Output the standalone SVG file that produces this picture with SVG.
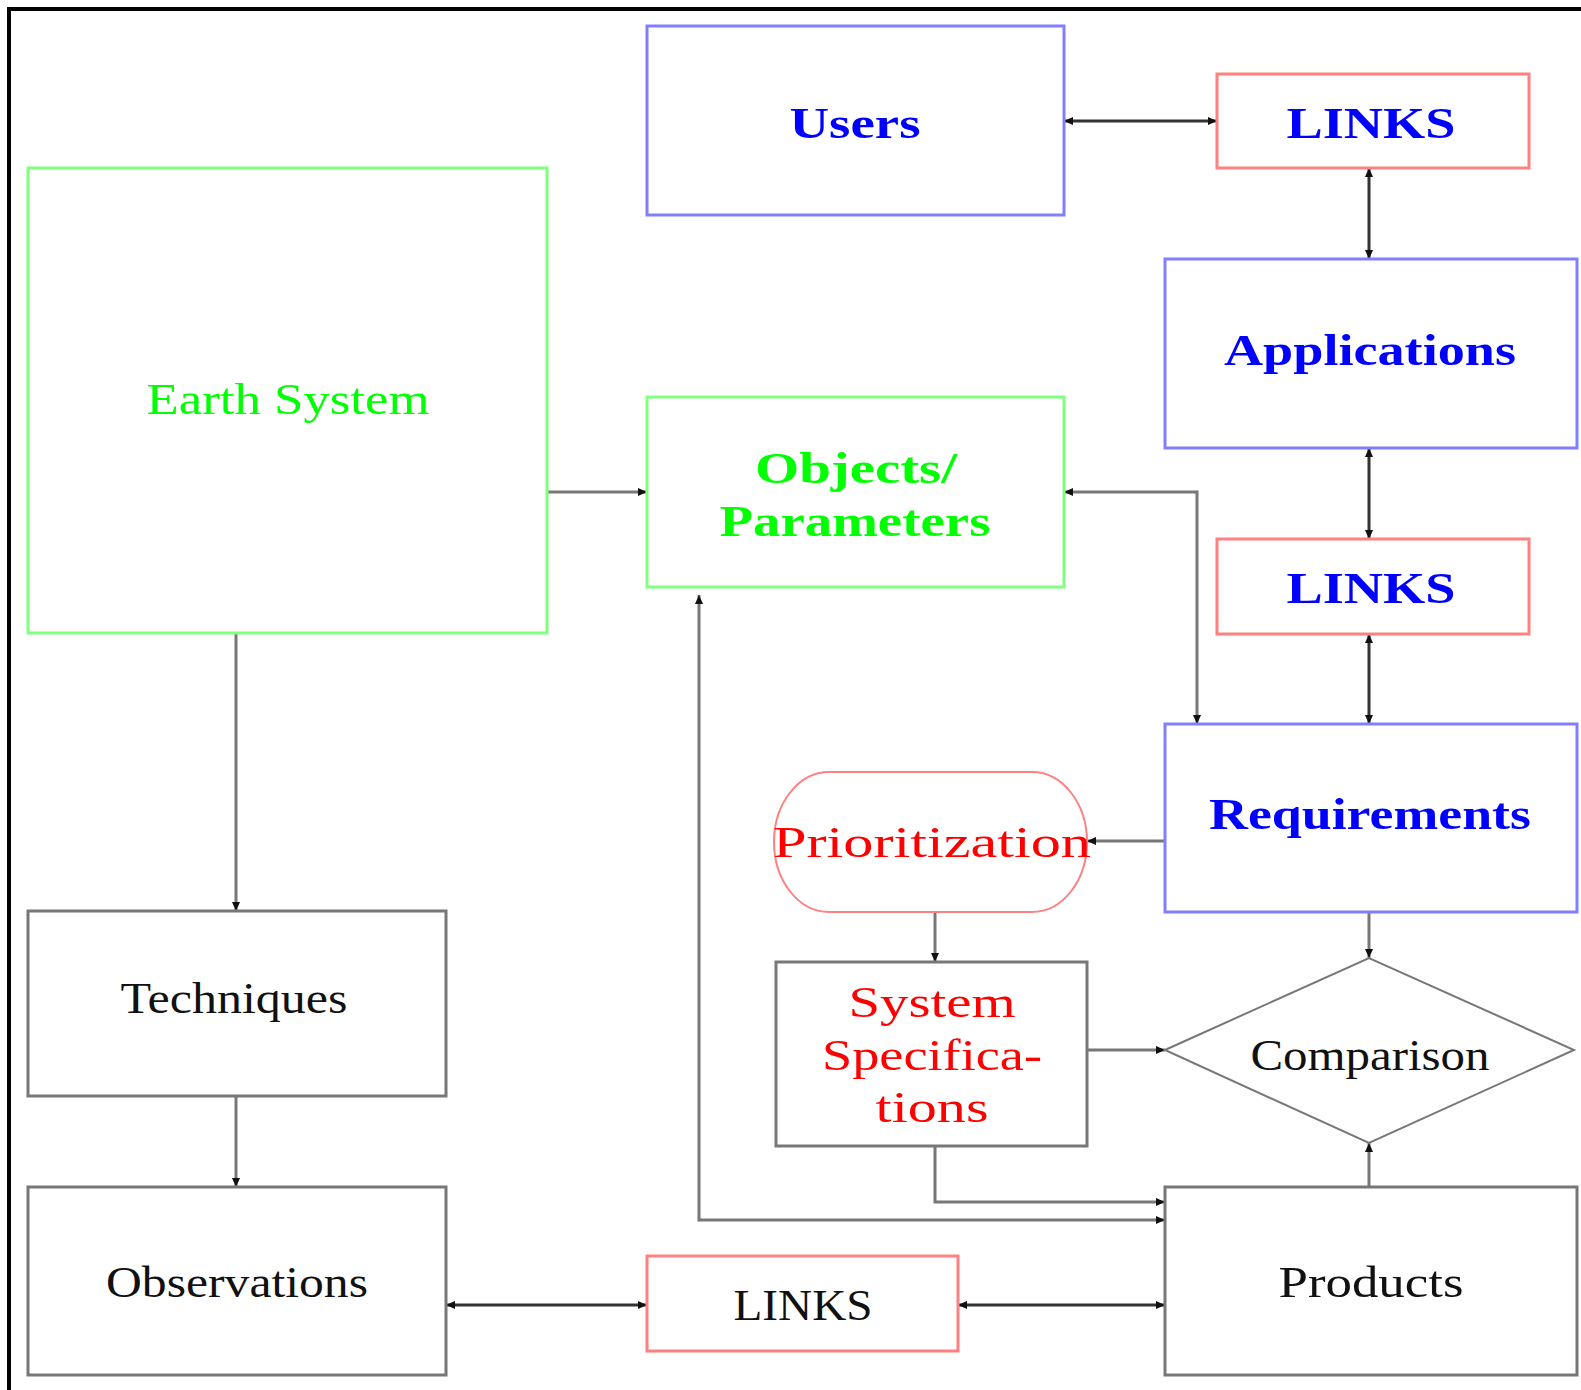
<svg xmlns="http://www.w3.org/2000/svg" width="1581" height="1390" viewBox="0 0 1581 1390">
<style>
.g{fill:none;stroke:#80ff80;stroke-width:3}
.b{fill:none;stroke:#8080ff;stroke-width:3}
.r{fill:none;stroke:#ff8080;stroke-width:3}
.k{fill:none;stroke:#777;stroke-width:3}
.t{font-family:"Liberation Serif","DejaVu Serif",serif;font-size:44px;text-anchor:middle}
.tg{fill:#00ff00}.tb{fill:#0000ff}.tr{fill:#ff0000}.tk{fill:#111}
.bold{font-weight:bold}
.c1{fill:none;stroke:#333;stroke-width:3}
.c2{fill:none;stroke:#777;stroke-width:3}
</style>
<defs>
<marker id="ah" markerUnits="userSpaceOnUse" markerWidth="10" markerHeight="8" refX="9" refY="4" orient="auto-start-reverse">
<path d="M0,0 L9,4 L0,8 z" fill="#111"/>
</marker>
</defs>
<rect x="0" y="0" width="1581" height="1390" fill="#fff"/>
<path d="M9,1400 V9 H1600" fill="none" stroke="#000" stroke-width="4"/>

<g id="connectors">
<line class="c1" x1="1064" y1="121" x2="1217" y2="121" marker-start="url(#ah)" marker-end="url(#ah)"/>
<line class="c1" x1="1369" y1="168" x2="1369" y2="259" marker-start="url(#ah)" marker-end="url(#ah)"/>
<line class="c1" x1="1369" y1="448" x2="1369" y2="539" marker-start="url(#ah)" marker-end="url(#ah)"/>
<line class="c1" x1="1369" y1="634" x2="1369" y2="724" marker-start="url(#ah)" marker-end="url(#ah)"/>
<line class="c2" x1="547" y1="492" x2="647" y2="492" marker-end="url(#ah)"/>
<polyline class="c2" points="1064,492 1197,492 1197,724" marker-start="url(#ah)" marker-end="url(#ah)"/>
<line class="c2" x1="1165" y1="841" x2="1087" y2="841" marker-end="url(#ah)"/>
<line class="c2" x1="935" y1="912" x2="935" y2="962" marker-end="url(#ah)"/>
<line class="c2" x1="1369" y1="912" x2="1369" y2="958" marker-end="url(#ah)"/>
<line class="c2" x1="1087" y1="1050" x2="1165" y2="1050" marker-end="url(#ah)"/>
<line class="c2" x1="1369" y1="1187" x2="1369" y2="1143" marker-end="url(#ah)"/>
<polyline class="c2" points="935,1146 935,1202 1165,1202" marker-end="url(#ah)"/>
<polyline class="c2" points="699,595 699,1220 1165,1220" marker-start="url(#ah)" marker-end="url(#ah)"/>
<line class="c2" x1="236" y1="633" x2="236" y2="911" marker-end="url(#ah)"/>
<line class="c2" x1="236" y1="1096" x2="236" y2="1187" marker-end="url(#ah)"/>
<line class="c1" x1="446" y1="1305" x2="647" y2="1305" marker-start="url(#ah)" marker-end="url(#ah)"/>
<line class="c1" x1="958" y1="1305" x2="1165" y2="1305" marker-start="url(#ah)" marker-end="url(#ah)"/>
</g>

<g id="earth-system">
<rect class="g" x="28" y="168" width="519" height="465"/>
<text class="t tg" x="288" y="414" textLength="283" lengthAdjust="spacingAndGlyphs">Earth System</text>
</g>
<g id="users">
<rect class="b" x="647" y="26" width="417" height="189"/>
<text class="t tb bold" x="855" y="138" textLength="131" lengthAdjust="spacingAndGlyphs">Users</text>
</g>
<g id="links-top">
<rect class="r" x="1217" y="74" width="312" height="94"/>
<text class="t tb bold" x="1371" y="138" textLength="169" lengthAdjust="spacingAndGlyphs">LINKS</text>
</g>
<g id="applications">
<rect class="b" x="1165" y="259" width="412" height="189"/>
<text class="t tb bold" x="1370" y="365" textLength="292" lengthAdjust="spacingAndGlyphs">Applications</text>
</g>
<g id="objects-parameters">
<rect class="g" x="647" y="397" width="417" height="190"/>
<text class="t tg bold" x="856" y="483" textLength="202" lengthAdjust="spacingAndGlyphs">Objects/</text>
<text class="t tg bold" x="855" y="536" textLength="271" lengthAdjust="spacingAndGlyphs">Parameters</text>
</g>
<g id="links-mid">
<rect class="r" x="1217" y="539" width="312" height="95"/>
<text class="t tb bold" x="1371" y="603" textLength="169" lengthAdjust="spacingAndGlyphs">LINKS</text>
</g>
<g id="requirements">
<rect class="b" x="1165" y="724" width="412" height="188"/>
<text class="t tb bold" x="1370" y="829" textLength="322" lengthAdjust="spacingAndGlyphs">Requirements</text>
</g>
<g id="prioritization">
<rect x="774" y="772" width="313" height="140" rx="55" ry="70" fill="none" stroke="#ff8080" stroke-width="2"/>
<text class="t tr" x="932" y="857" textLength="318" lengthAdjust="spacingAndGlyphs">Prioritization</text>
</g>
<g id="system-specifications">
<rect class="k" x="776" y="962" width="311" height="184"/>
<text class="t tr" x="932" y="1017" textLength="167" lengthAdjust="spacingAndGlyphs">System</text>
<text class="t tr" x="932" y="1070" textLength="220" lengthAdjust="spacingAndGlyphs">Specifica-</text>
<text class="t tr" x="932" y="1122" textLength="113" lengthAdjust="spacingAndGlyphs">tions</text>
</g>
<g id="comparison">
<polygon points="1165,1050 1369,958 1574,1050 1369,1143" fill="none" stroke="#777" stroke-width="2"/>
<text class="t tk" x="1370" y="1070" textLength="239" lengthAdjust="spacingAndGlyphs">Comparison</text>
</g>
<g id="techniques">
<rect class="k" x="28" y="911" width="418" height="185"/>
<text class="t tk" x="234" y="1013" textLength="227" lengthAdjust="spacingAndGlyphs">Techniques</text>
</g>
<g id="observations">
<rect class="k" x="28" y="1187" width="418" height="188"/>
<text class="t tk" x="237" y="1297" textLength="262" lengthAdjust="spacingAndGlyphs">Observations</text>
</g>
<g id="links-bottom">
<rect class="r" x="647" y="1256" width="311" height="95"/>
<text class="t tk" x="803" y="1320" textLength="139" lengthAdjust="spacingAndGlyphs">LINKS</text>
</g>
<g id="products">
<rect class="k" x="1165" y="1187" width="412" height="188"/>
<text class="t tk" x="1371" y="1297" textLength="185" lengthAdjust="spacingAndGlyphs">Products</text>
</g>
</svg>
